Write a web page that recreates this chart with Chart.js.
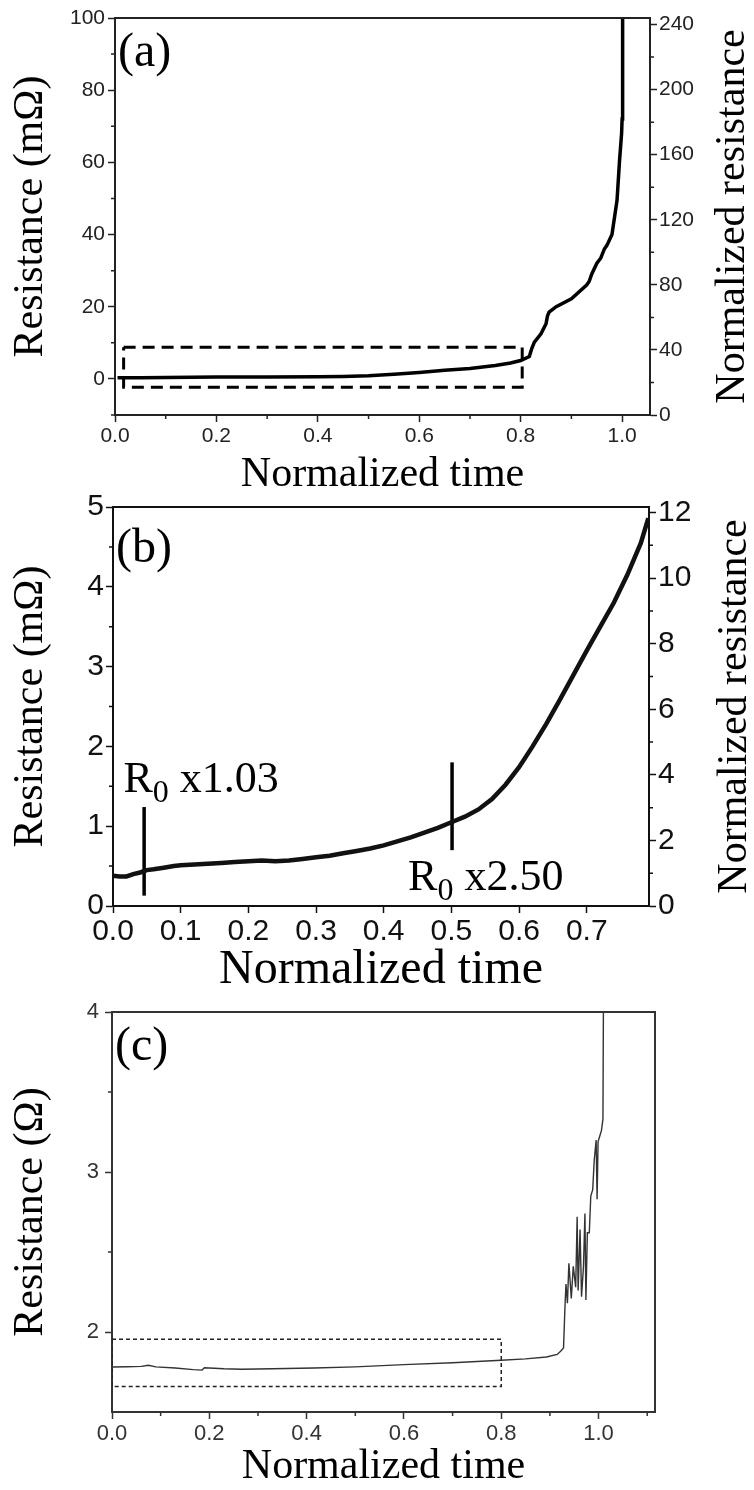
<!DOCTYPE html>
<html>
<head>
<meta charset="utf-8">
<title>Resistance vs normalized time</title>
<script src="https://cdn.jsdelivr.net/npm/chart.js@4.4.1/dist/chart.umd.min.js"></script>
<style>
  html, body { margin: 0; padding: 0; background: #fff; }
  body { position: relative; width: 754px; height: 1490px; overflow: hidden; }
  .panel { position: absolute; left: 0; }
</style>
</head>
<body>
<canvas class="panel" id="chartA" width="754" height="490" style="top:0"></canvas>
<canvas class="panel" id="chartB" width="754" height="515" style="top:490px"></canvas>
<canvas class="panel" id="chartC" width="754" height="510" style="top:980px"></canvas>
<script>
// ---- panel (a): full test ----
const timeA = [0.005, 0.05, 0.1, 0.2, 0.3, 0.4, 0.45, 0.5, 0.55, 0.6, 0.65, 0.7, 0.75, 0.78, 0.8,
  0.817, 0.822, 0.827, 0.84, 0.85, 0.853, 0.856, 0.87, 0.9, 0.93, 0.935, 0.94, 0.95, 0.958,
  0.965, 0.97, 0.98, 0.99, 0.995, 0.999, 1.0, 1.001];
const resistanceA = [0.3, 0.35, 0.4, 0.5, 0.55, 0.6, 0.7, 0.9, 1.3, 1.8, 2.4, 2.9, 3.7, 4.4, 5.1,
  6.2, 8.5, 10.2, 12.5, 15.3, 17.5, 18.5, 20.0, 22.2, 26, 27, 29, 32, 33.5,
  36, 37, 40, 49.5, 60.6, 68, 72, 100];
const boxTimeA = [0.017, 0.803, 0.803, 0.017, 0.017];
const boxResA = [8.8, 8.8, -2.3, -2.3, 8.8];
const xTicksA = [0, 0.2, 0.4, 0.6, 0.8, 1.0];
const xMinorA = [0.1, 0.3, 0.5, 0.7, 0.9];
const yTicksA = [0, 20, 40, 60, 80, 100];
const yMinorA = [-10, 10, 30, 50, 70, 90];
const y2TicksA = [0, 40, 80, 120, 160, 200, 240];
const y2MinorA = [20, 60, 100, 140, 180, 220];

// ---- panel (b): zoom of the dashed box ----
const timeB = [0, 0.01, 0.02, 0.03, 0.04, 0.05, 0.06, 0.075, 0.09, 0.1, 0.12, 0.14, 0.16, 0.18,
  0.2, 0.22, 0.24, 0.26, 0.28, 0.3, 0.32, 0.34, 0.36, 0.38, 0.4, 0.42, 0.44, 0.46, 0.48, 0.5,
  0.52, 0.54, 0.56, 0.58, 0.6, 0.62, 0.64, 0.66, 0.68, 0.7, 0.72, 0.74, 0.76, 0.78, 0.791];
const resistanceB = [0.38, 0.37, 0.37, 0.4, 0.42, 0.45, 0.46, 0.48, 0.5, 0.51, 0.52, 0.53, 0.54, 0.55,
  0.56, 0.57, 0.56, 0.57, 0.59, 0.61, 0.63, 0.66, 0.69, 0.72, 0.76, 0.81, 0.86, 0.92, 0.98, 1.05,
  1.12, 1.21, 1.34, 1.52, 1.74, 2.0, 2.28, 2.58, 2.89, 3.2, 3.5, 3.8, 4.15, 4.55, 4.86];
const markerTimeB = [0.046, 0.501];
const markerLowB = [0.13, 0.7];
const markerHighB = [1.24, 1.8];
const noteTextB = ['x1.03', 'x2.50'];
const noteTimeB = [0.0154, 0.436];
const noteResB = [1.43, 0.2];
const xTicksB = [0, 0.1, 0.2, 0.3, 0.4, 0.5, 0.6, 0.7];
const yTicksB = [0, 1, 2, 3, 4, 5];
const yMinorB = [0.5, 1.5, 2.5, 3.5, 4.5];
const y2TicksB = [0, 2, 4, 6, 8, 10, 12];
const y2MinorB = [1, 3, 5, 7, 9, 11];

// ---- panel (c): second sample ----
const timeC = [0, 0.03, 0.06, 0.075, 0.09, 0.13, 0.167, 0.185, 0.19, 0.23, 0.266, 0.33, 0.415, 0.5,
  0.6, 0.7, 0.8, 0.85, 0.893, 0.915, 0.922, 0.928, 0.931, 0.933, 0.936, 0.939, 0.944, 0.948,
  0.953, 0.956, 0.958, 0.962, 0.965, 0.969, 0.972, 0.974, 0.977, 0.981, 0.984, 0.988, 0.991,
  0.995, 0.997, 0.999, 1.003, 1.006, 1.009, 1.01];
const resistanceC = [1.781, 1.783, 1.785, 1.792, 1.782, 1.775, 1.765, 1.762, 1.777, 1.77, 1.767,
  1.77, 1.775, 1.782, 1.796, 1.808, 1.823, 1.832, 1.844, 1.86, 1.88, 1.9, 2.16, 2.3, 2.18,
  2.43, 2.21, 2.41, 2.28, 2.72, 2.26, 2.64, 2.22, 2.41, 2.74, 2.2, 2.62, 2.62, 2.85, 2.89,
  3.07, 3.2, 2.83, 3.19, 3.23, 3.26, 3.33, 4.05];
const boxTimeC = [0, 0.8, 0.8, 0, 0];
const boxResC = [1.955, 1.955, 1.66, 1.66, 1.955];
const xTicksC = [0, 0.2, 0.4, 0.6, 0.8, 1.0];
const xMinorC = [0.1, 0.3, 0.5, 0.7, 0.9, 1.1];
const yTicksC = [2, 3, 4];
const yMinorC = [2.5, 3.5];

const SERIF = '"Liberation Serif", "Times New Roman", serif';
const SANS = '"Liberation Sans", Arial, sans-serif';

function points(xs, ys) {
  return xs.map((x, i) => ({ x: x, y: ys[i] }));
}

function fixed(list) {
  return (scale) => { scale.ticks = list.map((v) => ({ value: v })); };
}

// minor ticks, frame, titles and panel letter
function decor(cfg) {
  return {
    id: 'decor',
    afterDraw(chart) {
      const ctx = chart.ctx;
      const a = chart.chartArea;
      const sx = chart.scales.x;
      const sy = chart.scales.y;
      const sy2 = chart.scales.y2;
      ctx.save();
      ctx.strokeStyle = cfg.frameColor;
      ctx.lineWidth = cfg.frameWidth;
      ctx.beginPath();
      ctx.moveTo(a.left, a.top);
      ctx.lineTo(a.right, a.top);
      ctx.lineTo(a.right, a.bottom);
      ctx.stroke();

      ctx.lineWidth = 1.5;
      ctx.beginPath();
      (cfg.minorX || []).forEach((v) => {
        const p = sx.getPixelForValue(v);
        ctx.moveTo(p, a.bottom);
        ctx.lineTo(p, a.bottom + 4);
      });
      (cfg.minorY || []).forEach((v) => {
        const p = sy.getPixelForValue(v);
        ctx.moveTo(a.left, p);
        ctx.lineTo(a.left - 4, p);
      });
      if (sy2) {
        (cfg.minorY2 || []).forEach((v) => {
          const p = sy2.getPixelForValue(v);
          ctx.moveTo(a.right, p);
          ctx.lineTo(a.right + 4, p);
        });
      }
      ctx.stroke();

      ctx.fillStyle = '#000';
      ctx.textAlign = 'center';
      ctx.textBaseline = 'middle';
      ctx.font = cfg.xTitleSize + 'px ' + SERIF;
      ctx.fillText('Normalized time', (a.left + a.right) / 2, a.bottom + cfg.xTitleGap);

      ctx.save();
      ctx.translate(cfg.yTitleX, (a.top + a.bottom) / 2);
      ctx.rotate(-Math.PI / 2);
      ctx.font = '42px ' + SERIF;
      ctx.fillText(cfg.yTitle, 0, 0);
      ctx.restore();

      if (cfg.y2Title) {
        ctx.save();
        ctx.translate(cfg.y2TitleX, (a.top + a.bottom) / 2);
        ctx.rotate(-Math.PI / 2);
        ctx.font = '42px ' + SERIF;
        ctx.fillText(cfg.y2Title, 0, 0);
        ctx.restore();
      }

      ctx.textAlign = 'left';
      ctx.font = '48px ' + SERIF;
      ctx.fillText(cfg.letter, a.left + 3, a.top + cfg.letterGap);

      if (cfg.notes) {
        cfg.notes.text.forEach((t, i) => {
          const x = sx.getPixelForValue(cfg.notes.time[i]);
          const y = sy.getPixelForValue(cfg.notes.res[i]);
          const size = 44;
          ctx.textBaseline = 'alphabetic';
          ctx.font = size + 'px ' + SERIF;
          ctx.fillText('R', x, y);
          let w = ctx.measureText('R').width;
          ctx.font = Math.round(size * 0.72) + 'px ' + SERIF;
          ctx.fillText('0', x + w, y + size * 0.22);
          w += ctx.measureText('0').width;
          ctx.font = size + 'px ' + SERIF;
          ctx.fillText(' ' + t, x + w, y);
        });
      }
      ctx.restore();
    }
  };
}

function axis(opts) {
  return {
    type: 'linear',
    position: opts.position,
    min: opts.min,
    max: opts.max,
    afterFit: opts.fit,
    afterBuildTicks: fixed(opts.ticks),
    ticks: {
      autoSkip: false,
      maxRotation: 0,
      padding: opts.pad,
      color: opts.color,
      font: { family: SANS, size: opts.size, lineHeight: 1 },
      callback: opts.format
    },
    grid: {
      display: true,
      drawOnChartArea: false,
      drawTicks: true,
      tickLength: 7,
      tickWidth: 1.5,
      tickColor: opts.color
    },
    border: { display: true, color: opts.color, width: 2 },
    title: { display: false }
  };
}

const common = {
  responsive: false,
  animation: false,
  devicePixelRatio: 1,
  plugins: { legend: { display: false }, tooltip: { enabled: false } },
  elements: { point: { radius: 0 }, line: { tension: 0 } }
};

const oneDecimal = (v) => Number(v).toFixed(1);
const whole = (v) => String(v);

// (a)
new Chart(document.getElementById('chartA'), {
  type: 'scatter',
  data: {
    datasets: [
      { data: points(timeA, resistanceA), showLine: true, borderColor: '#000', borderWidth: 3.5 },
      { data: points(boxTimeA, boxResA), showLine: true, borderColor: '#000', borderWidth: 3, borderDash: [12, 7] }
    ]
  },
  options: Object.assign({}, common, {
    layout: { padding: { top: 18, left: 0, right: 0, bottom: 0 } },
    scales: {
      x: axis({ position: 'bottom', min: 0, max: 1.055, ticks: xTicksA, pad: 4, size: 21, color: '#222',
        format: oneDecimal, fit: (s) => { s.height = 75; } }),
      y: axis({ position: 'left', min: -10, max: 100, ticks: yTicksA, pad: 3, size: 21, color: '#222',
        format: whole, fit: (s) => { s.width = 115; } }),
      y2: axis({ position: 'right', min: 0, max: 244, ticks: y2TicksA, pad: 2, size: 21, color: '#222',
        format: whole, fit: (s) => { s.width = 104; } })
    }
  }),
  plugins: [decor({ frameColor: '#222', frameWidth: 2, minorX: xMinorA, minorY: yMinorA, minorY2: y2MinorA,
    xTitleSize: 42, xTitleGap: 60, yTitle: 'Resistance (m\u03A9)', yTitleX: 31,
    y2Title: 'Normalized resistance', y2TitleX: 733, letter: '(a)', letterGap: 35 })]
});

// (b)
const markerSets = markerTimeB.map((t, i) => ({
  data: points([t, t], [markerLowB[i], markerHighB[i]]),
  showLine: true, borderColor: '#000', borderWidth: 3.5
}));
new Chart(document.getElementById('chartB'), {
  type: 'scatter',
  data: {
    datasets: [
      { data: points(timeB, resistanceB), showLine: true, borderColor: '#111', borderWidth: 4.5 }
    ].concat(markerSets)
  },
  options: Object.assign({}, common, {
    layout: { padding: { top: 16, left: 0, right: 0, bottom: 0 } },
    scales: {
      x: axis({ position: 'bottom', min: 0, max: 0.792, ticks: xTicksB, pad: 4, size: 30, color: '#111',
        format: oneDecimal, fit: (s) => { s.height = 99; } }),
      y: axis({ position: 'left', min: 0, max: 5, ticks: yTicksB, pad: 2, size: 30, color: '#111',
        format: whole, fit: (s) => { s.width = 113; } }),
      y2: axis({ position: 'right', min: 0, max: 12.17, ticks: y2TicksB, pad: 2, size: 30, color: '#111',
        format: whole, fit: (s) => { s.width = 105; } })
    }
  }),
  plugins: [decor({ frameColor: '#111', frameWidth: 2, minorX: [], minorY: yMinorB, minorY2: y2MinorB,
    xTitleSize: 48, xTitleGap: 64, yTitle: 'Resistance (m\u03A9)', yTitleX: 31,
    y2Title: 'Normalized resistance', y2TitleX: 735, letter: '(b)', letterGap: 42,
    notes: { text: noteTextB, time: noteTimeB, res: noteResB } })]
});

// (c)
new Chart(document.getElementById('chartC'), {
  type: 'scatter',
  data: {
    datasets: [
      { data: points(timeC, resistanceC), showLine: true, borderColor: '#333', borderWidth: 1.4 },
      { data: points(boxTimeC, boxResC), showLine: true, borderColor: '#222', borderWidth: 1.5, borderDash: [4, 3] }
    ]
  },
  options: Object.assign({}, common, {
    layout: { padding: { top: 32, left: 0, right: 99, bottom: 0 } },
    scales: {
      x: axis({ position: 'bottom', min: 0, max: 1.116, ticks: xTicksC, pad: 4, size: 22, color: '#333',
        format: oneDecimal, fit: (s) => { s.height = 78; } }),
      y: axis({ position: 'left', min: 1.5, max: 4, ticks: yTicksC, pad: 6, size: 22, color: '#333',
        format: whole, fit: (s) => { s.width = 112; } })
    }
  }),
  plugins: [decor({ frameColor: '#333', frameWidth: 2, minorX: xMinorC, minorY: yMinorC,
    xTitleSize: 42, xTitleGap: 55, yTitle: 'Resistance (\u03A9)', yTitleX: 31,
    letter: '(c)', letterGap: 35 })]
});
</script>
</body>
</html>
